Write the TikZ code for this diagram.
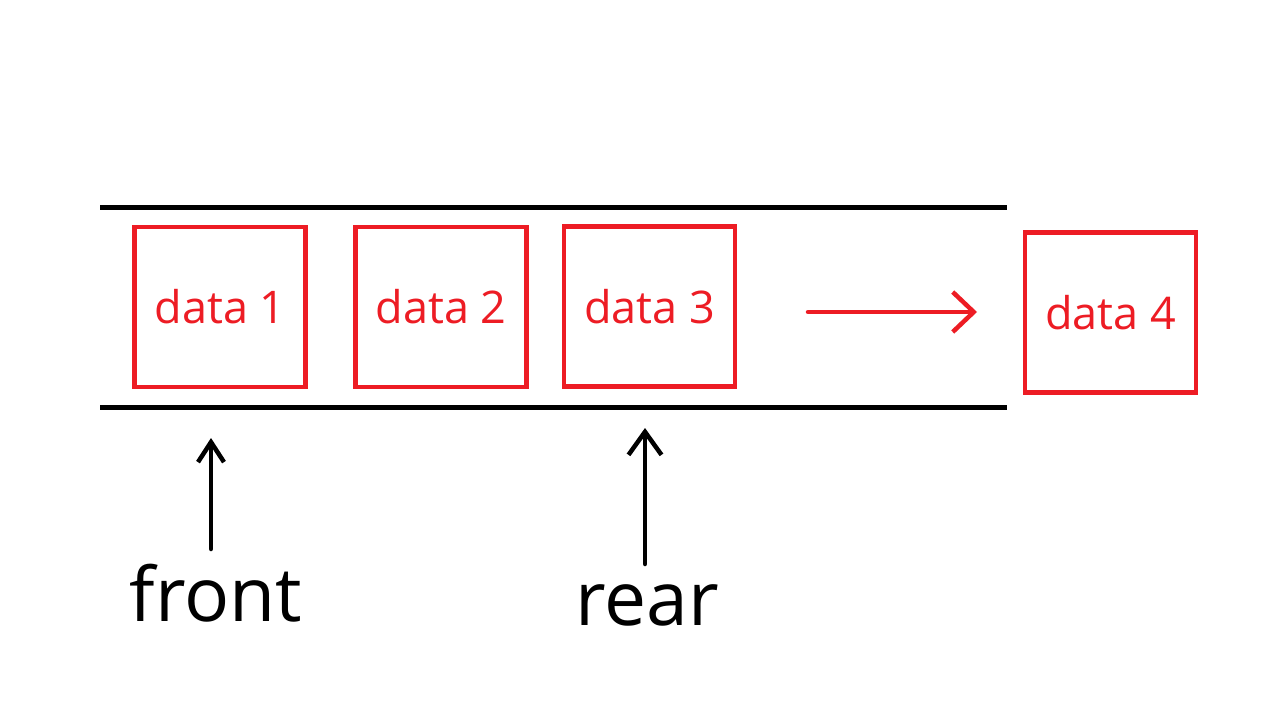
\documentclass[tikz,border=0pt]{standalone}
\usepackage{fontspec}
\setmainfont{Open Sans}
\usetikzlibrary{arrows.meta}
\definecolor{pred}{HTML}{ED1C24}
\tikzset{
  databox/.style={draw=pred, line width=4.5pt, text=pred, font=\fontsize{45}{45}\selectfont,
    minimum width=171pt, minimum height=160pt, inner sep=0pt, outer sep=0pt},
  rail/.style={line width=5pt},
  pointer/.style={line width=4.5pt, line cap=round, line join=round},
  label/.style={font=\fontsize{75}{75}\selectfont, inner sep=0pt, anchor=base}
}
\begin{document}
\begin{tikzpicture}[x=1pt,y=-1pt]
\useasboundingbox[fill=white] (0,0) rectangle (1280,722);
% rails
\coordinate (tl) at (100,208); \coordinate (tr) at (1007,208);
\coordinate (bl) at (100,407); \coordinate (br) at (1007,407);
\draw[rail] (tl) -- (tr);
\draw[rail] (bl) -- (br);
% boxes
\node[databox] (d1) at (220,307) {data 1};
\node[databox] (d2) at (441,307) {data 2};
\node[databox] (d3) at (649.5,306.5) {data 3};
\node[databox] (d4) at (1110.5,312.5) {data 4};
% red arrow
\coordinate (ra) at (808,312); \coordinate (rb) at (977,312);
\draw[pointer, draw=pred, -{Straight Barb[length=21pt,width=40pt]}] (ra) -- (rb);
% labels
\node[label] (front) at (216,621) {front};
\node[label] (rear) at (647,625) {rear};
% black arrows
\coordinate (fb) at (211,549); \coordinate (ft) at (211,438);
\coordinate (rbot) at (645,564); \coordinate (rtop) at (645,428);
\draw[pointer, -{Straight Barb[length=20pt,width=26pt]}] (fb) -- (ft);
\draw[pointer, -{Straight Barb[length=23pt,width=33pt]}] (rbot) -- (rtop);
\end{tikzpicture}
\end{document}
